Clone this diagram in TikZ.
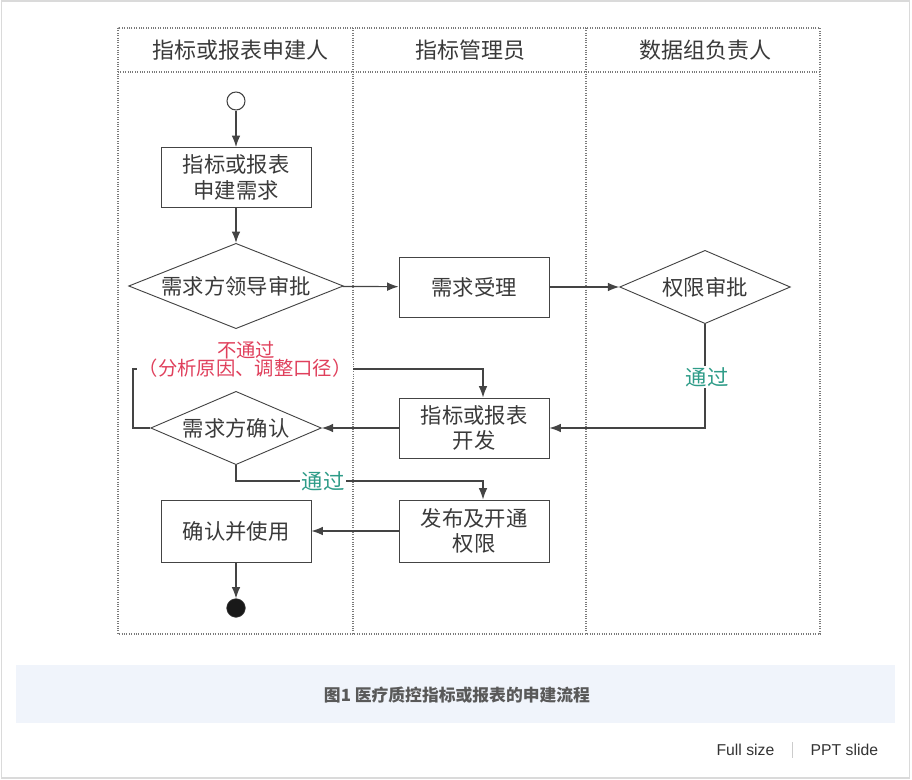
\documentclass[tikz,border=0pt]{standalone}
\usepackage{fontspec}
\setmainfont{Liberation Sans}
\newfontfamily\cjk{Noto Sans CJK SC}
\usetikzlibrary{shapes.geometric,arrows.meta}
\definecolor{ln}{HTML}{444444}
\definecolor{tx}{HTML}{3A3A3A}
\definecolor{lanec}{HTML}{7A7A7A}
\definecolor{redl}{HTML}{E0405C}
\definecolor{greenl}{HTML}{2E9C88}
\definecolor{capbg}{HTML}{F0F4FB}
\definecolor{framec}{HTML}{DADADA}
\begin{document}
\begin{tikzpicture}[x=0.75pt,y=-0.75pt,
  lane/.style={draw=lanec,densely dotted,line width=0.8pt},
  boxn/.style={draw=ln,line width=0.7pt,fill=white,minimum width=112.5pt,minimum height=45pt,inner sep=1pt,align=center,font=\cjk\fontsize{16}{19}\selectfont,text=tx},
  dia/.style={draw=ln,line width=0.7pt,shape=diamond,inner sep=0pt,aspect=2.5,font=\cjk\fontsize{16}{19}\selectfont,text=tx},
  head/.style={font=\cjk\fontsize{16.5}{19}\selectfont,text=tx},
  arr/.style={draw=ln,line width=0.9pt,-{Latex[length=8.5pt,width=6.5pt]}},
  lbl/.style={fill=white,inner sep=1pt,font=\cjk\fontsize{16}{19}\selectfont},
]
\useasboundingbox (0,0) rectangle (912,780);
\draw[framec,line width=0.8pt] (1.5,1) rectangle (909.5,778);
% swimlanes
\draw[lane] (118,28) rectangle (820,634);
\draw[lane] (118,72) -- (820,72);
\draw[lane] (353,28) -- (353,634);
\draw[lane] (586,28) -- (586,634);
\node[head] (h1) at (240,50) {指标或报表申建人};
\node[head] (h2) at (470,50) {指标管理员};
\node[head] (h3) at (705,50) {数据组负责人};
% nodes
\node[circle,draw=ln,line width=0.8pt,minimum size=13.5pt,inner sep=0pt] (start) at (236,101) {};
\node[boxn] (req) at (236,177.5) {指标或报表\\申建需求};
\node[dia,minimum width=161pt,minimum height=64pt] (d1) at (236,286) {需求方领导审批};
\node[boxn] (acc) at (474,287) {需求受理};
\node[dia,minimum width=128pt,minimum height=55pt] (d2) at (705,287) {权限审批};
\node[boxn] (dev) at (474,428) {指标或报表\\开发};
\node[dia,minimum width=128pt,minimum height=55pt] (d3) at (236,428) {需求方确认};
\node[boxn,minimum height=46.5pt] (pub) at (474,531) {发布及开通\\权限};
\node[boxn,minimum height=46.5pt] (use) at (236,531) {确认并使用};
\node[circle,fill=black!90,draw=ln,minimum size=14pt,inner sep=0pt] (end) at (236,608) {};
\coordinate (lp1) at (133,428);
\coordinate (lp2) at (133,369);
\coordinate (lp3) at (483,369);
\coordinate (ok1) at (236,481);
\coordinate (ok2) at (483,481);
\coordinate (rt1) at (705,428);
% connectors
\draw[arr] (start) -- (req);
\draw[arr] (req) -- (d1);
\draw[arr] (d1) -- (acc);
\draw[arr] (acc) -- (d2);
\draw[arr] (d2.south) -- (rt1) -- (dev.east);
\draw[arr] (dev) -- (d3);
\draw[arr] (d3.west) -- (lp1) -- (lp2) -- (lp3) -- (dev.north -| lp3);
\draw[arr] (d3.south) -- (ok1) -- (ok2) -- (pub.north -| ok2);
\draw[arr] (pub) -- (use);
\draw[arr] (use) -- (end);
% labels
\node[lbl,text=greenl] (g1) at (707,377) {通过};
\node[lbl,text=greenl] (g2) at (323,481) {通过};
\node[lbl,text=redl,font=\cjk\fontsize{14.5}{16}\selectfont] (r2) at (245,368.5) {（分析原因、调整口径）};
\node[inner sep=0pt,text=redl,font=\cjk\fontsize{14.5}{16}\selectfont] (r1) at (246,350) {不通过};
% caption
\fill[capbg] (16,665) rectangle (895,723);
\node[font=\cjk\bfseries\fontsize{12.6}{14}\selectfont,text=black!65] (cap) at (457,695) {图1 医疗质控指标或报表的申建流程};
\node[font=\fontsize{11.8}{13}\selectfont,text=black!80,anchor=east] (fs) at (779,750) {Full size};
\node[font=\fontsize{11.8}{13}\selectfont,text=black!80,anchor=west] (ppt) at (806,750) {PPT slide};
\draw[black!20,line width=0.7pt] (792.5,742) -- (792.5,758);
\end{tikzpicture}
\end{document}
